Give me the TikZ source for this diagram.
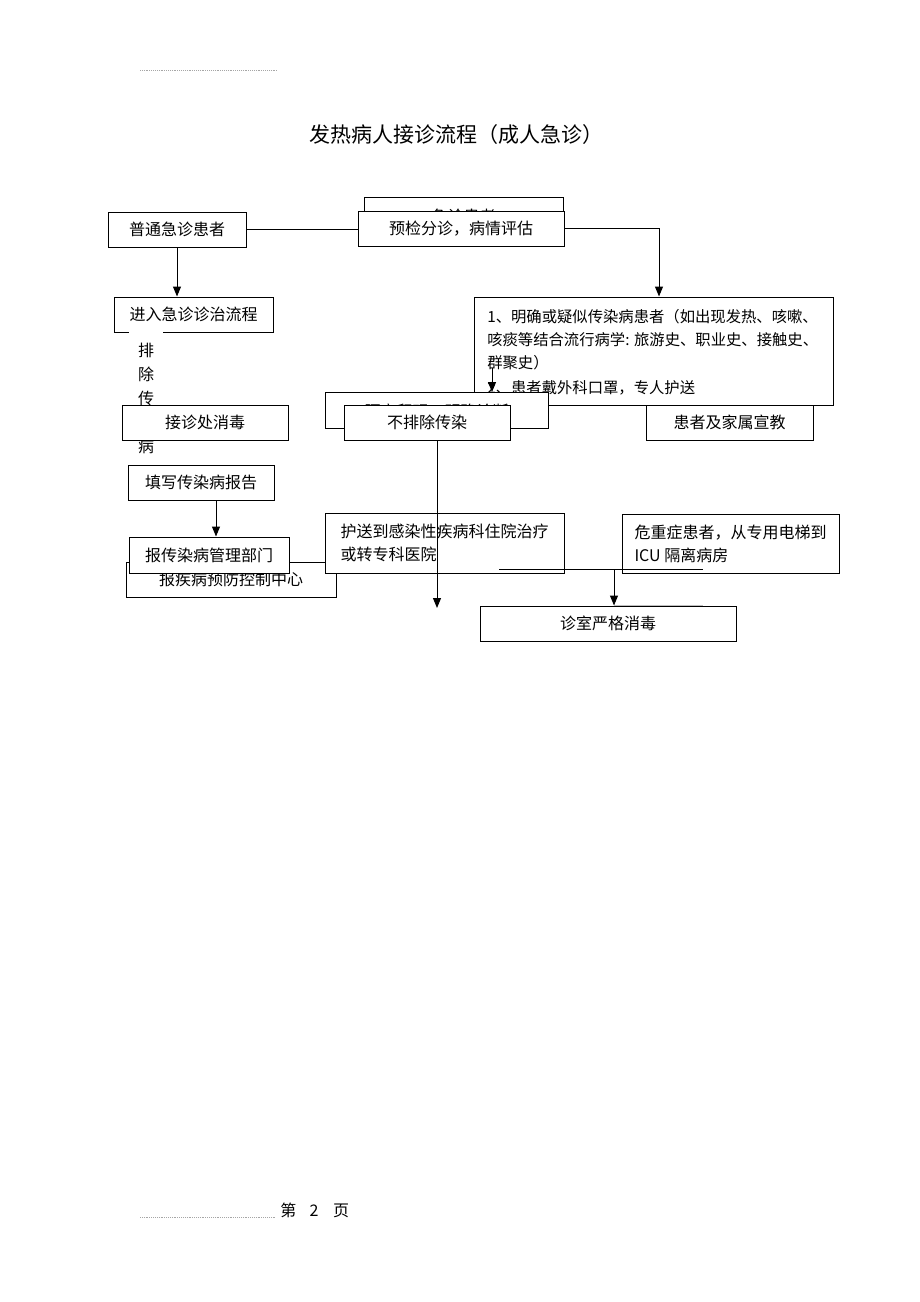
\documentclass[tikz,border=0pt]{standalone}
\usepackage{fontspec}
\setmainfont{Noto Sans CJK SC}
\usetikzlibrary{arrows.meta}
\begin{document}
\begin{tikzpicture}[x=0.75pt,y=-0.75pt,
  box/.style={draw, line width=0.75pt, fill=white, inner sep=0pt, minimum height=26.25pt, font=\fontsize{12}{17.25}\selectfont},
  arr/.style={line width=0.75pt, -{Triangle[length=7.5pt,width=6pt]}},
  ln/.style={line width=0.75pt},
  rule/.style={gray!70, line width=0.4pt, densely dotted}]
\useasboundingbox[fill=white] (0,0) rectangle (920,1302);

% header / footer
\coordinate (hl1) at (140,70); \coordinate (hl2) at (278,70);
\draw[rule] (hl1) -- (hl2);
\node[font=\fontsize{15.75}{18}\selectfont] (title) at (456,135) {发热病人接诊流程（成人急诊）};
\coordinate (fl1) at (140,1217); \coordinate (fl2) at (276,1217);
\draw[rule] (fl1) -- (fl2);
\node[font=\fontsize{12}{14}\selectfont, anchor=west, inner sep=0pt] (foot) at (280,1210) {第\hspace{10pt}2\hspace{11pt}页};

% top row
\node[box, minimum width=149.25pt] (jz) at (463.5,214.5) {};
\node[font=\fontsize{12}{14}\selectfont, inner sep=0pt] (jzt) at (463.5,216) {急诊患者};
\node[box, minimum width=154.5pt] (yj) at (461,228.5) {预检分诊，病情评估};
\node[box, minimum width=103.5pt] (pt) at (177,229.5) {普通急诊患者};

% left column
\node[box, minimum width=119.25pt] (jr) at (193.5,314.5) {进入急诊诊治流程};
\node[fill=white, inner sep=0pt, minimum width=25.5pt, minimum height=100.5pt, align=center, font=\fontsize{12}{18}\selectfont] (pc) at (146,398) {排\\除\\传\\染\\病};
\node[box, minimum width=124.5pt] (jzc) at (205,422.5) {接诊处消毒};
\node[box, minimum width=109.5pt] (tx) at (201,482.5) {填写传染病报告};
\node[box, minimum width=157.5pt] (bk) at (231,579.5) {报疾病预防控制中心};
\node[box, minimum width=120pt, minimum height=27pt] (bcr) at (209,555) {报传染病管理部门};

% right column
\node[box, minimum width=269.25pt, minimum height=81pt] (xq) at (653.5,351) {};
\node[anchor=west, align=left, inner sep=0pt, font=\fontsize{11.5}{17.25}\selectfont] (xqt) at (487,352.5) {1、明确或疑似传染病患者（如出现发热、咳嗽、\\咳痰等结合流行病学: 旅游史、职业史、接触史、\\群聚史）\\[1.5pt]2、患者戴外科口罩，专人护送};
\coordinate (a1) at (492,368);
\coordinate (a2) at (492,392);
\draw[arr] (a1) -- (a2);
\node[box, minimum width=167.25pt, minimum height=27pt] (hb) at (436.5,410) {};
\node[font=\fontsize{12}{14}\selectfont, inner sep=0pt] (hbt) at (436.5,411.5) {隔离留观，明确诊断};
\node[box, minimum width=124.5pt] (bpc) at (427,422.5) {不排除传染};
\node[box, minimum width=125.25pt] (xj) at (729.5,422.5) {患者及家属宣教};

\node[box, minimum width=179.25pt, minimum height=45pt, align=left] (hs) at (444.5,543) {护送到感染性疾病科住院治疗\\或转专科医院};
\node[box, minimum width=162.75pt, minimum height=44.25pt, align=left] (wz) at (730.5,543.5) {危重症患者，从专用电梯到\\ICU 隔离病房};
\node[box, minimum width=192pt] (zs) at (608,623.5) {诊室严格消毒};

% connectors
\draw[ln] (pt.east) -- (pt.east -| yj.west);
\draw[arr] (yj.east) -| ([xshift=4.125pt]xq.north);
\draw[arr] (pt.south) -- (pt.south |- jr.north);
\draw[arr] ([xshift=11.25pt]tx.south) -- ([xshift=11.25pt]tx.south |- bcr.north);
\coordinate (d1) at (437,608);
\draw[arr] ([xshift=7.5pt]bpc.south) -- (d1);
\coordinate (h1) at (499,569); \coordinate (h2) at (703,569);
\draw[ln] (h1) -- (h2);
\coordinate (h3) at (614,569);
\draw[arr] (h3) -- (h3 |- zs.north);
\coordinate (g1) at (614,605); \coordinate (g2) at (703,605);
\draw[gray!50, line width=0.5pt] (g1) -- (g2);
\end{tikzpicture}
\end{document}
